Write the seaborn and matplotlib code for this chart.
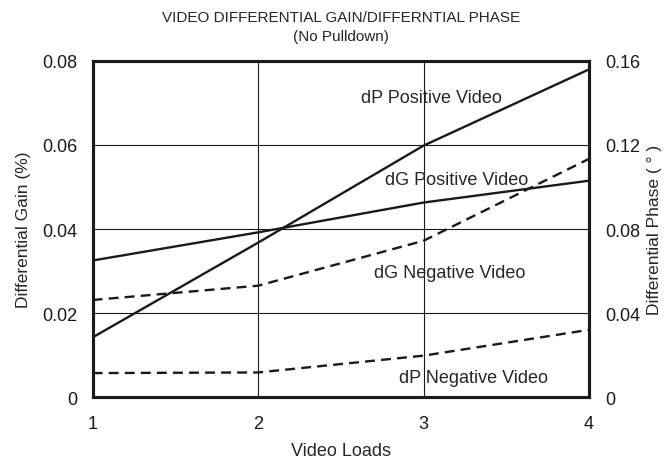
import pandas as pd
import seaborn as sns
import matplotlib
matplotlib.use("Agg")
import matplotlib.pyplot as plt

# values
loads = [1, 2, 3, 4]
dg_positive = [0.0325, 0.0392, 0.0463, 0.0515]   # left axis (%)
dg_negative = [0.0231, 0.0265, 0.0372, 0.0567]   # left axis (%)
dp_positive = [0.0284, 0.0735, 0.1197, 0.1560]   # right axis (deg)
dp_negative = [0.0114, 0.0117, 0.0197, 0.0320]   # right axis (deg)

left_ticks = [0, 0.02, 0.04, 0.06, 0.08]
left_labels = ["0", "0.02", "0.04", "0.06", "0.08"]
right_ticks = [0, 0.04, 0.08, 0.12, 0.16]
right_labels = ["0", "0.04", "0.08", "0.12", "0.16"]

sns.set_style("white")
plt.rcParams['font.family'] = ['Liberation Sans', 'DejaVu Sans']
plt.rcParams['font.size'] = 13

gain = pd.DataFrame({'loads': loads, 'pos': dg_positive, 'neg': dg_negative})
phase = pd.DataFrame({'loads': loads, 'pos': dp_positive, 'neg': dp_negative})

ink = '#1a1a1a'
fig = plt.figure(figsize=(6.7, 4.64), dpi=100)
ax = fig.add_axes([0.1383, 0.1422, 0.7408, 0.7242])
ax2 = ax.twinx()

# gain on the left axis
sns.lineplot(data=gain, x='loads', y='pos', ax=ax, color=ink, lw=1.7)
sns.lineplot(data=gain, x='loads', y='neg', ax=ax, color=ink, lw=1.7)
ax.lines[-1].set_dashes([4.2, 2.6])

# phase on the right axis
sns.lineplot(data=phase, x='loads', y='pos', ax=ax2, color=ink, lw=1.7)
sns.lineplot(data=phase, x='loads', y='neg', ax=ax2, color=ink, lw=1.7)
ax2.lines[-1].set_dashes([4.2, 2.6])

ax.set_xlim(1, 4)
ax.set_ylim(0, 0.08)
ax2.set_ylim(0, 0.16)
ax.set_xticks(loads)
ax.set_xticklabels([str(v) for v in loads])
ax.set_yticks(left_ticks)
ax.set_yticklabels(left_labels)
ax2.set_yticks(right_ticks)
ax2.set_yticklabels(right_labels)

ax.grid(True, color=ink, lw=0.8)
ax.tick_params(axis='both', length=0, labelsize=13, colors=ink)
ax.tick_params(axis='x', pad=13)
ax.tick_params(axis='y', pad=11)
ax2.tick_params(axis='y', length=0, labelsize=13, pad=11.5, colors=ink)

for a in (ax, ax2):
    for s in a.spines.values():
        s.set_linewidth(2.2)
        s.set_color(ink)

ax.set_xlabel("Video Loads", fontsize=13, labelpad=7)
ax.set_ylabel("Differential Gain (%)", fontsize=12.5, labelpad=8)
ax2.set_ylabel("Differential Phase ( ° )", fontsize=12.5, labelpad=5)
ax.set_title("VIDEO DIFFERENTIAL GAIN/DIFFERNTIAL PHASE\n(No Pulldown)",
             fontsize=11, pad=15, linespacing=1.5)

# curve labels (left-axis data coordinates)
ax.text(3.05, 0.0712, "dP Positive Video", ha='center', va='center', fontsize=13)
ax.text(3.20, 0.0517, "dG Positive Video", ha='center', va='center', fontsize=13)
ax.text(3.16, 0.0297, "dG Negative Video", ha='center', va='center', fontsize=13)
ax.text(3.30, 0.0047, "dP Negative Video", ha='center', va='center', fontsize=13)

fig.savefig("out.png", dpi=100, facecolor='white')
